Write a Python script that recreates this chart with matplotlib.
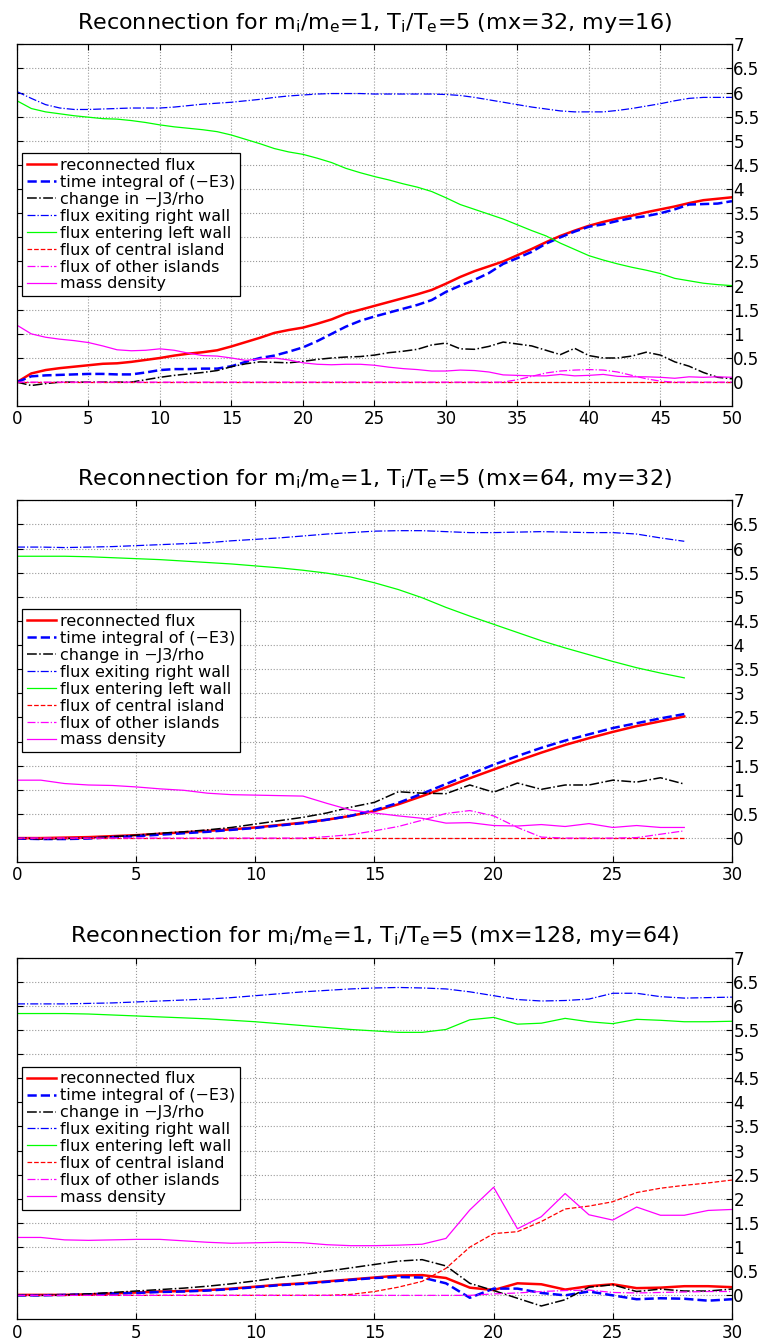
import numpy as np
import matplotlib
matplotlib.use("Agg")
import matplotlib.pyplot as plt

plt.rcParams['font.family'] = ['DejaVu Sans']
plt.rcParams['mathtext.fontset'] = 'dejavusans'
plt.rcParams['mathtext.default'] = 'regular'

labels = ["reconnected flux", "time integral of (\u2212E3)", "change in \u2212J3/rho",
          "flux exiting right wall", "flux entering left wall", "flux of central island",
          "flux of other islands", "mass density"]

# run 1: mx=32, my=16, t = 0..50
rf1 = [0, 0.18, 0.25, 0.29, 0.32, 0.35, 0.38, 0.39, 0.42, 0.46, 0.50, 0.55, 0.59, 0.62, 0.66, 0.74,
       0.83, 0.92, 1.02, 1.08, 1.13, 1.21, 1.30, 1.42, 1.50, 1.58, 1.66, 1.74, 1.82, 1.91, 2.04,
       2.18, 2.30, 2.40, 2.50, 2.63, 2.76, 2.90, 3.03, 3.14, 3.24, 3.32, 3.39, 3.45, 3.52, 3.58,
       3.64, 3.71, 3.77, 3.80, 3.83]
ti1 = [0, 0.12, 0.14, 0.15, 0.16, 0.17, 0.17, 0.16, 0.16, 0.20, 0.25, 0.27, 0.27, 0.28, 0.28, 0.33,
       0.42, 0.50, 0.55, 0.63, 0.72, 0.85, 1.00, 1.15, 1.27, 1.36, 1.44, 1.52, 1.60, 1.70, 1.87,
       2.00, 2.12, 2.26, 2.45, 2.57, 2.70, 2.87, 3.00, 3.12, 3.22, 3.27, 3.34, 3.40, 3.44, 3.50,
       3.58, 3.68, 3.69, 3.70, 3.75]
j1 = [0, -0.07, -0.03, 0, 0, 0, 0, 0, 0, 0.05, 0.10, 0.14, 0.17, 0.20, 0.24, 0.32, 0.38, 0.42,
      0.41, 0.40, 0.43, 0.47, 0.50, 0.52, 0.53, 0.56, 0.61, 0.64, 0.68, 0.77, 0.81, 0.69, 0.68,
      0.74, 0.83, 0.79, 0.75, 0.66, 0.57, 0.70, 0.55, 0.50, 0.50, 0.54, 0.62, 0.56, 0.42, 0.33,
      0.20, 0.10, 0.07]
er1 = [6.02, 5.88, 5.75, 5.68, 5.65, 5.65, 5.66, 5.67, 5.68, 5.68, 5.68, 5.70, 5.73, 5.76, 5.78,
       5.80, 5.83, 5.86, 5.90, 5.93, 5.95, 5.97, 5.98, 5.98, 5.98, 5.97, 5.97, 5.97, 5.97, 5.97,
       5.96, 5.94, 5.90, 5.85, 5.80, 5.75, 5.70, 5.66, 5.62, 5.60, 5.60, 5.60, 5.63, 5.67, 5.72,
       5.77, 5.83, 5.88, 5.90, 5.90, 5.90]
el1 = [5.83, 5.67, 5.60, 5.56, 5.52, 5.49, 5.46, 5.45, 5.42, 5.38, 5.33, 5.29, 5.26, 5.23, 5.19,
       5.12, 5.03, 4.94, 4.84, 4.77, 4.72, 4.64, 4.55, 4.43, 4.34, 4.26, 4.19, 4.11, 4.04, 3.95,
       3.82, 3.68, 3.58, 3.48, 3.38, 3.26, 3.14, 3.03, 2.88, 2.75, 2.62, 2.53, 2.45, 2.38, 2.32,
       2.25, 2.15, 2.10, 2.05, 2.02, 2.00]
ci1 = [0.0] * 51
oi1 = [0.0] * 34 + [0.0, 0.05, 0.12, 0.19, 0.23, 0.25, 0.26, 0.25, 0.21, 0.14, 0.07, 0.02,
                    0, 0, 0, 0, 0]
md1 = [1.18, 1.00, 0.93, 0.89, 0.86, 0.82, 0.75, 0.67, 0.65, 0.66, 0.69, 0.66, 0.60, 0.55, 0.54,
       0.50, 0.45, 0.48, 0.50, 0.46, 0.40, 0.37, 0.36, 0.37, 0.37, 0.35, 0.31, 0.28, 0.26, 0.23,
       0.23, 0.25, 0.24, 0.21, 0.15, 0.14, 0.13, 0.13, 0.16, 0.13, 0.14, 0.16, 0.12, 0.11, 0.11,
       0.10, 0.08, 0.11, 0.10, 0.11, 0.10]

# run 2: mx=64, my=32, t = 0..28
rf2 = [0, 0, 0.01, 0.02, 0.04, 0.06, 0.09, 0.12, 0.15, 0.18, 0.22, 0.27, 0.32, 0.38, 0.46, 0.56,
       0.70, 0.87, 1.05, 1.24, 1.42, 1.60, 1.77, 1.93, 2.07, 2.20, 2.32, 2.42, 2.52]
ti2 = [-0.01, -0.02, -0.02, -0.01, 0.02, 0.04, 0.07, 0.10, 0.13, 0.17, 0.21, 0.26, 0.31, 0.38,
       0.46, 0.58, 0.73, 0.92, 1.12, 1.32, 1.52, 1.70, 1.87, 2.02, 2.15, 2.28, 2.38, 2.48, 2.57]
j2 = [0, -0.02, -0.01, 0, 0.03, 0.06, 0.10, 0.13, 0.17, 0.22, 0.29, 0.36, 0.43, 0.52, 0.64, 0.74,
      0.96, 0.93, 0.92, 1.10, 0.95, 1.14, 1.01, 1.10, 1.10, 1.20, 1.16, 1.25, 1.12]
er2 = [6.03, 6.03, 6.02, 6.03, 6.04, 6.06, 6.08, 6.10, 6.12, 6.16, 6.19, 6.22, 6.26, 6.30, 6.33,
       6.36, 6.37, 6.37, 6.35, 6.33, 6.33, 6.34, 6.35, 6.34, 6.33, 6.33, 6.30, 6.22, 6.15]
el2 = [5.84, 5.84, 5.84, 5.83, 5.81, 5.79, 5.77, 5.74, 5.71, 5.68, 5.64, 5.60, 5.55, 5.49, 5.41,
       5.29, 5.15, 4.98, 4.78, 4.60, 4.43, 4.26, 4.09, 3.94, 3.80, 3.66, 3.53, 3.42, 3.32]
ci2 = [0.0] * 29
oi2 = [0.0] * 13 + [0.03, 0.07, 0.15, 0.24, 0.37, 0.51, 0.57, 0.46, 0.22, 0.02, 0, 0, 0, 0.01,
                    0.08, 0.15]
md2 = [1.20, 1.20, 1.13, 1.10, 1.09, 1.06, 1.02, 0.99, 0.93, 0.90, 0.89, 0.88, 0.87, 0.72, 0.58,
       0.52, 0.46, 0.41, 0.31, 0.32, 0.26, 0.25, 0.28, 0.24, 0.30, 0.22, 0.26, 0.22, 0.22]

# run 3: mx=128, my=64, t = 0..30
rf3 = [0.01, 0.01, 0.01, 0.02, 0.04, 0.06, 0.08, 0.09, 0.11, 0.14, 0.18, 0.22, 0.25, 0.29, 0.33,
       0.37, 0.41, 0.42, 0.36, 0.16, 0.11, 0.25, 0.23, 0.12, 0.19, 0.23, 0.15, 0.16, 0.19, 0.19,
       0.17]
ti3 = [0, 0, 0.01, 0.02, 0.04, 0.05, 0.07, 0.08, 0.10, 0.13, 0.17, 0.21, 0.24, 0.28, 0.32, 0.36,
       0.38, 0.37, 0.25, -0.05, 0.14, 0.14, 0.05, 0.0, 0.08, 0.0, -0.08, -0.06, -0.07, -0.11,
       -0.08]
j3 = [0, 0, 0.01, 0.03, 0.06, 0.09, 0.12, 0.15, 0.19, 0.24, 0.30, 0.37, 0.43, 0.50, 0.57, 0.64,
      0.71, 0.74, 0.61, 0.25, 0.10, -0.06, -0.22, -0.09, 0.17, 0.22, 0.08, 0.13, 0.09, 0.09, 0.13]
er3 = [6.04, 6.04, 6.04, 6.05, 6.06, 6.08, 6.10, 6.12, 6.14, 6.17, 6.21, 6.25, 6.29, 6.32, 6.35,
       6.37, 6.38, 6.37, 6.35, 6.29, 6.21, 6.13, 6.10, 6.11, 6.14, 6.26, 6.26, 6.19, 6.16, 6.17,
       6.18]
el3 = [5.84, 5.84, 5.84, 5.83, 5.81, 5.79, 5.77, 5.75, 5.73, 5.70, 5.67, 5.63, 5.59, 5.55, 5.51,
       5.48, 5.45, 5.45, 5.51, 5.71, 5.76, 5.62, 5.64, 5.74, 5.67, 5.63, 5.72, 5.70, 5.67, 5.67,
       5.68]
ci3 = [0.0] * 14 + [0.02, 0.08, 0.17, 0.29, 0.56, 1.00, 1.28, 1.32, 1.53, 1.79, 1.85, 1.94, 2.13,
                    2.22, 2.28, 2.33, 2.39]
oi3 = [0.0] * 20 + [0.03, 0.05, 0.08, 0.10, 0.11, 0.06, 0.05, 0.06, 0.07, 0.08, 0.08]
md3 = [1.20, 1.20, 1.15, 1.14, 1.15, 1.16, 1.16, 1.13, 1.10, 1.08, 1.09, 1.10, 1.09, 1.05, 1.03,
       1.03, 1.04, 1.06, 1.18, 1.77, 2.24, 1.38, 1.63, 2.11, 1.67, 1.56, 1.83, 1.66, 1.66, 1.76,
       1.78]

runs = [
    ("(mx=32, my=16)", 50, [rf1, ti1, j1, er1, el1, ci1, oi1, md1]),
    ("(mx=64, my=32)", 30, [rf2, ti2, j2, er2, el2, ci2, oi2, md2]),
    ("(mx=128, my=64)", 30, [rf3, ti3, j3, er3, el3, ci3, oi3, md3]),
]

# colour, linestyle, linewidth for each of the 8 curves
styles = [("#ff0000", "-", 1.8), ("#0000ff", "--", 1.8), ("k", "-.", 1.1),
          ("#0000ff", "-.", 0.9), ("#00ff00", "-", 0.9), ("#ff0000", "--", 0.9),
          ("#ff00ff", "-.", 0.9), ("#ff00ff", "-", 0.9)]

fig = plt.figure(figsize=(7.65, 13.43), dpi=100)
bottoms = [0.6975, 0.3580, 0.0175]

for (tag, xmax, series), b in zip(runs, bottoms):
    ax = fig.add_axes([0.0222, b, 0.9346, 0.2695])
    for y, (c, ls, lw), lab in zip(series, styles, labels):
        t = np.arange(len(y))
        ax.plot(t, y, color=c, linestyle=ls, linewidth=lw, label=lab)
    ax.set_xlim(0, xmax)
    ax.set_ylim(-0.5, 7)
    ax.set_xticks(np.arange(0, xmax + 1, 5))
    ax.set_yticks(np.arange(0, 7.01, 0.5))
    ax.set_yticklabels([f"{v:g}" for v in np.arange(0, 7.01, 0.5)])
    ax.grid(True, linestyle=":", color="0.6", linewidth=0.8)
    ax.tick_params(direction="in", length=4, width=0.8, top=True, bottom=True, left=True,
                   right=True, labelleft=False, labelright=True, labelsize=12)
    ax.tick_params(axis="y", pad=1)
    ax.tick_params(axis="x", pad=3)
    for s in ax.spines.values():
        s.set_linewidth(0.9)
    ax.set_title("Reconnection for m$_i$/m$_e$=1, T$_i$/T$_e$=5 " + tag, fontsize=16, pad=11)
    leg = ax.legend(loc="upper left", bbox_to_anchor=(0.007, 0.699), borderaxespad=0,
                    fontsize=11.5, fancybox=False, framealpha=1, edgecolor="k",
                    borderpad=0.3, handlelength=1.8, handletextpad=0.25, labelspacing=0.12)
    leg.get_frame().set_linewidth(0.9)

fig.savefig("out.png", dpi=100)
